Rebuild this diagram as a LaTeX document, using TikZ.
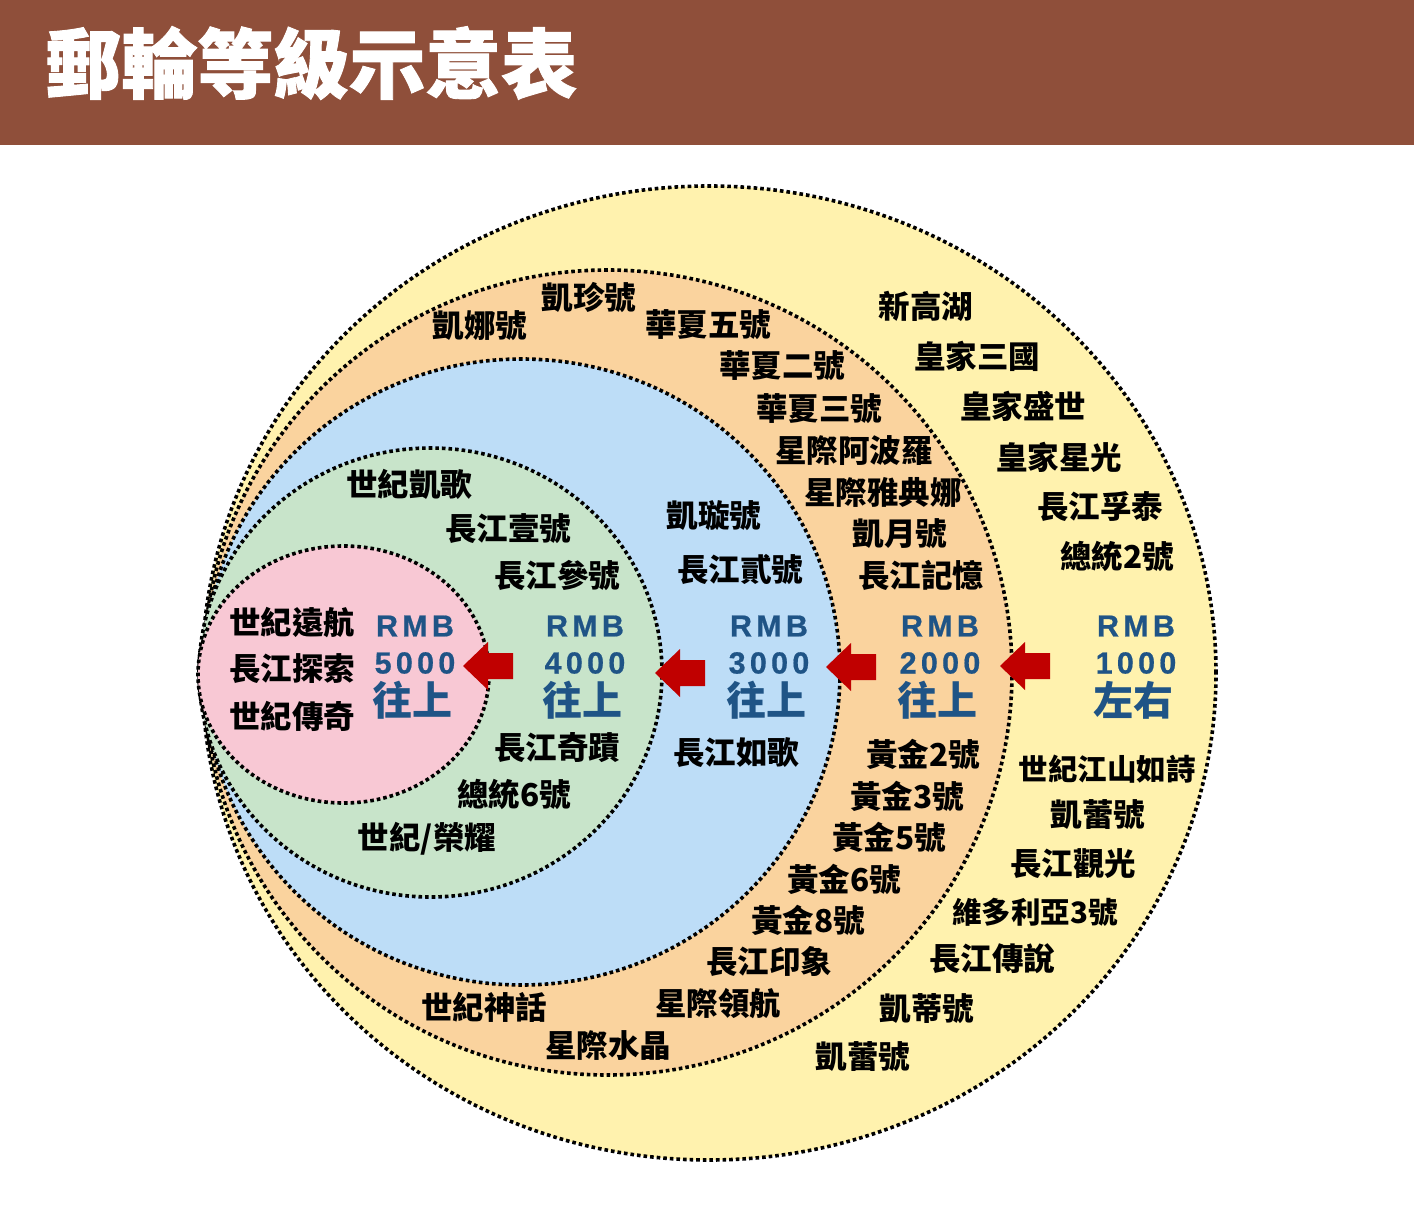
\documentclass[tikz,border=0pt]{standalone}
\usepackage{fontspec}
\newfontfamily\cjk{Noto Sans CJK TC}
\newfontfamily\cjkt{Noto Sans CJK TC}[BoldFeatures={FakeBold=1.2}]
\newfontfamily\lat{Liberation Sans}[LetterSpace=14,BoldFont={Liberation Sans Bold},BoldFeatures={FakeBold=0.6}]
\definecolor{hdr}{RGB}{143,79,58}
\definecolor{cyel}{RGB}{255,242,174}
\definecolor{cora}{RGB}{250,211,158}
\definecolor{cblu}{RGB}{189,221,247}
\definecolor{cgrn}{RGB}{200,228,202}
\definecolor{cpnk}{RGB}{248,200,212}
\definecolor{ared}{RGB}{192,0,0}
\definecolor{tblu}{RGB}{31,84,134}
\newcommand\blkarrow[2]{%
  \fill[ared] (#1,#2) -- ++(25,-24) -- ++(0,11) -- ++(25,0) -- ++(0,26) -- ++(-25,0) -- ++(0,11) -- cycle;}
\begin{document}
\begin{tikzpicture}[x=1pt,y=-1pt,
  ring/.style={draw=black,line width=3.6pt,dash pattern=on 3.6pt off 3pt},
  nm/.style={inner sep=0pt,font=\cjk\bfseries\fontsize{31.5}{34}\selectfont},
  nms/.style={inner sep=0pt,font=\cjk\bfseries\fontsize{29.5}{32}\selectfont},
  rmb/.style={inner sep=0pt,text=tblu,font=\lat\bfseries\fontsize{30.5}{32}\selectfont},
  up/.style={inner sep=0pt,text=tblu,font=\cjk\bfseries\fontsize{40}{42}\selectfont}]
\useasboundingbox (0,0) rectangle (1414,1225);
\fill[white] (0,0) rectangle (1414,1225);
\fill[hdr] (0,0) rectangle (1414,145);
\node[anchor=west,inner sep=0pt,text=white,font=\cjkt\bfseries\fontsize{76}{80}\selectfont] (title) at (45,63) {郵輪等級示意表};
% rings
\draw[ring,fill=cyel] (709,673) ellipse [x radius=507pt, y radius=487pt];
\draw[ring,fill=cora] (607.5,672.5) ellipse [x radius=404.5pt, y radius=402.5pt];
\draw[ring,fill=cblu] (521.5,672) ellipse [x radius=318.5pt, y radius=313pt];
\draw[ring,fill=cgrn] (430.5,672.5) ellipse [x radius=231.5pt, y radius=224.5pt];
\draw[ring,fill=cpnk] (343.5,674.5) ellipse [x radius=145.5pt, y radius=128.5pt];
% arrows
\blkarrow{463}{666}
\blkarrow{655}{673}
\blkarrow{826}{667}
\blkarrow{1000}{666}
% price labels
\node[rmb] (r1) at (415,626) {RMB};
\node[rmb] (p1) at (415,663) {5000};
\node[up] (u1) at (412,700) {往上};
\node[rmb] (r2) at (585,626) {RMB};
\node[rmb] (p2) at (585,663) {4000};
\node[up] (u2) at (582,700) {往上};
\node[rmb] (r3) at (769,626) {RMB};
\node[rmb] (p3) at (769,663) {3000};
\node[up] (u3) at (766,700) {往上};
\node[rmb] (r4) at (940,626) {RMB};
\node[rmb] (p4) at (940,663) {2000};
\node[up] (u4) at (937,700) {往上};
\node[rmb] (r5) at (1136,626) {RMB};
\node[rmb] (p5) at (1136,663) {1000};
\node[up] (u5) at (1133,700) {左右};
% pink
\node[nm] (a1) at (292,623) {世紀遠航};
\node[nm] (a2) at (292,669) {長江探索};
\node[nm] (a3) at (292,716) {世紀傳奇};
% green
\node[nm] (b1) at (409,484) {世紀凱歌};
\node[nm] (b2) at (508,529) {長江壹號};
\node[nm] (b3) at (557,575) {長江參號};
\node[nm] (b4) at (557,748) {長江奇蹟};
\node[nm] (b5) at (514,794) {總統6號};
\node[nm] (b6) at (427,839) {世紀/榮耀};
% blue
\node[nm] (c1) at (714,516) {凱璇號};
\node[nm] (c2) at (740,570) {長江貳號};
\node[nm] (c3) at (736,753) {長江如歌};
% orange
\node[nm] (d1) at (480,326) {凱娜號};
\node[nm] (d2) at (589,298) {凱珍號};
\node[nm] (d3) at (708,325) {華夏五號};
\node[nm] (d4) at (782,366) {華夏二號};
\node[nm] (d5) at (819,409) {華夏三號};
\node[nm] (d6) at (854,451) {星際阿波羅};
\node[nm] (d7) at (883,492) {星際雅典娜};
\node[nm] (d8) at (900,534) {凱月號};
\node[nm] (d9) at (921,575) {長江記憶};
\node[nm] (d10) at (923,754) {黃金2號};
\node[nm] (d11) at (907,796) {黃金3號};
\node[nm] (d12) at (889,837) {黃金5號};
\node[nm] (d13) at (844,879) {黃金6號};
\node[nm] (d14) at (808,920) {黃金8號};
\node[nm] (d15) at (769,962) {長江印象};
\node[nm] (d16) at (718,1004) {星際領航};
\node[nm] (d17) at (484,1007) {世紀神話};
\node[nm] (d18) at (608,1046) {星際水晶};
% yellow
\node[nm] (e1) at (926,306) {新高湖};
\node[nm] (e2) at (977,356) {皇家三國};
\node[nm] (e3) at (1023,406) {皇家盛世};
\node[nm] (e4) at (1059,457) {皇家星光};
\node[nm] (e5) at (1100,507) {長江孚泰};
\node[nm] (e6) at (1117,556) {總統2號};
\node[nms] (e7) at (1107,769) {世紀江山如詩};
\node[nm] (e8) at (1098,815) {凱蕾號};
\node[nm] (e9) at (1073,864) {長江觀光};
\node[nms] (e10) at (1035,912) {維多利亞3號};
\node[nm] (e11) at (992,959) {長江傳說};
\node[nm] (e12) at (927,1009) {凱蒂號};
\node[nm] (e13) at (863,1057) {凱蕾號};
\end{tikzpicture}
\end{document}
